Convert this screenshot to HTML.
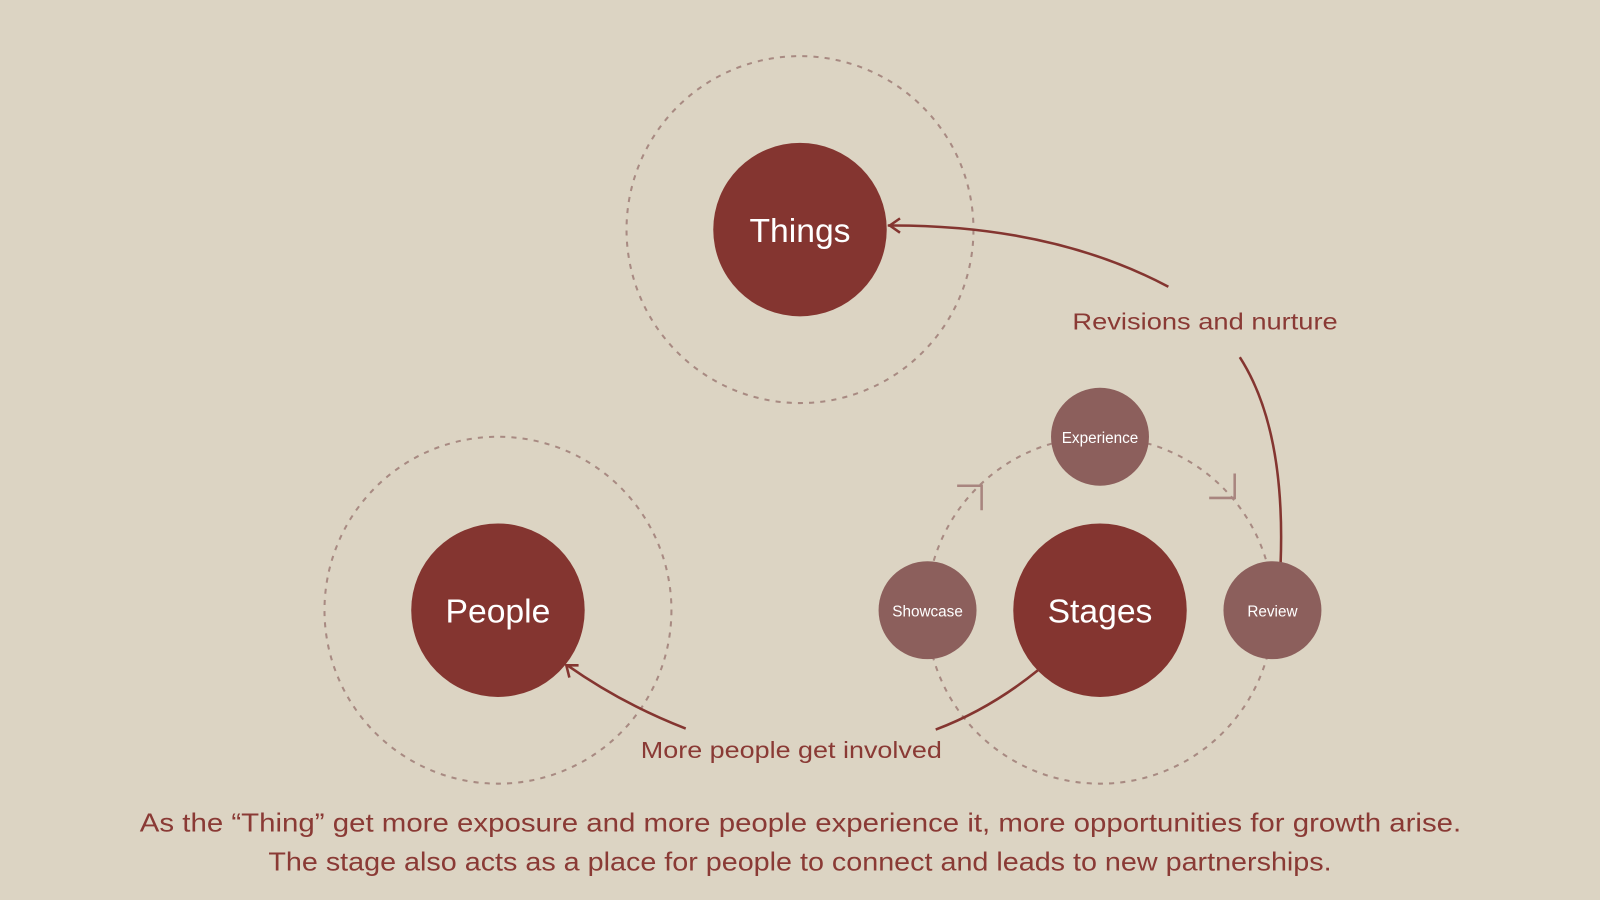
<!DOCTYPE html>
<html><head><style>
html,body{margin:0;padding:0;background:#dcd4c3;}
svg{display:block}
text{font-family:"Liberation Sans",sans-serif}
</style></head><body>
<svg width="1600" height="900" viewBox="0 0 1568 882" preserveAspectRatio="none">
<rect width="1568" height="882" fill="#dcd4c3"/>
<g fill="none" stroke="#a88a82" stroke-width="2" stroke-dasharray="5 6">
<circle cx="784" cy="225" r="170"/>
<circle cx="488" cy="598" r="170"/>
<circle cx="1078" cy="598" r="170"/>
</g>
<g fill="none" stroke="#a8857f" stroke-width="2.5">
<polyline points="938,476 962,476 962,500"/>
<polyline points="1185,488 1210,488 1210,464"/>
</g>
<g fill="none" stroke="#843530" stroke-width="2.5">
<path d="M1145,281 Q1030,220 870,221"/>
<polyline points="882,214 872,221 882,228"/>
<path d="M1215,350 Q1260,420 1255,552"/>
<path d="M1017,657 Q970,695 917,715"/>
<path d="M672,714 Q610,690 556,652"/>
<polyline points="558,664 555,652 567,652"/>
</g>
<circle cx="784" cy="225" r="85" fill="#843530"/>
<circle cx="488" cy="598" r="85" fill="#843530"/>
<circle cx="1078" cy="598" r="85" fill="#843530"/>
<circle cx="1078" cy="428" r="48" fill="#8c5f5c"/>
<circle cx="909" cy="598" r="48" fill="#8c5f5c"/>
<circle cx="1247" cy="598" r="48" fill="#8c5f5c"/>
<g fill="#fff" text-anchor="middle">
<text x="784" y="237" font-size="33">Things</text>
<text x="488" y="610" font-size="33">People</text>
<text x="1078" y="610" font-size="33">Stages</text>
<text x="1078" y="434" font-size="15">Experience</text>
<text x="909" y="604" font-size="15">Showcase</text>
<text x="1247" y="604" font-size="15">Review</text>
</g>
<g fill="#8a3a35">
<text x="1051" y="323" font-size="23" textLength="260" lengthAdjust="spacingAndGlyphs">Revisions and nurture</text>
<text x="628" y="743" font-size="23" textLength="295" lengthAdjust="spacingAndGlyphs">More people get involved</text>
<text x="137" y="815" font-size="25" textLength="1295" lengthAdjust="spacingAndGlyphs">As the “Thing” get more exposure and more people experience it, more opportunities for growth arise.</text>
<text x="263" y="853" font-size="25" textLength="1042" lengthAdjust="spacingAndGlyphs">The stage also acts as a place for people to connect and leads to new partnerships.</text>
</g>
</svg>
</body></html>
